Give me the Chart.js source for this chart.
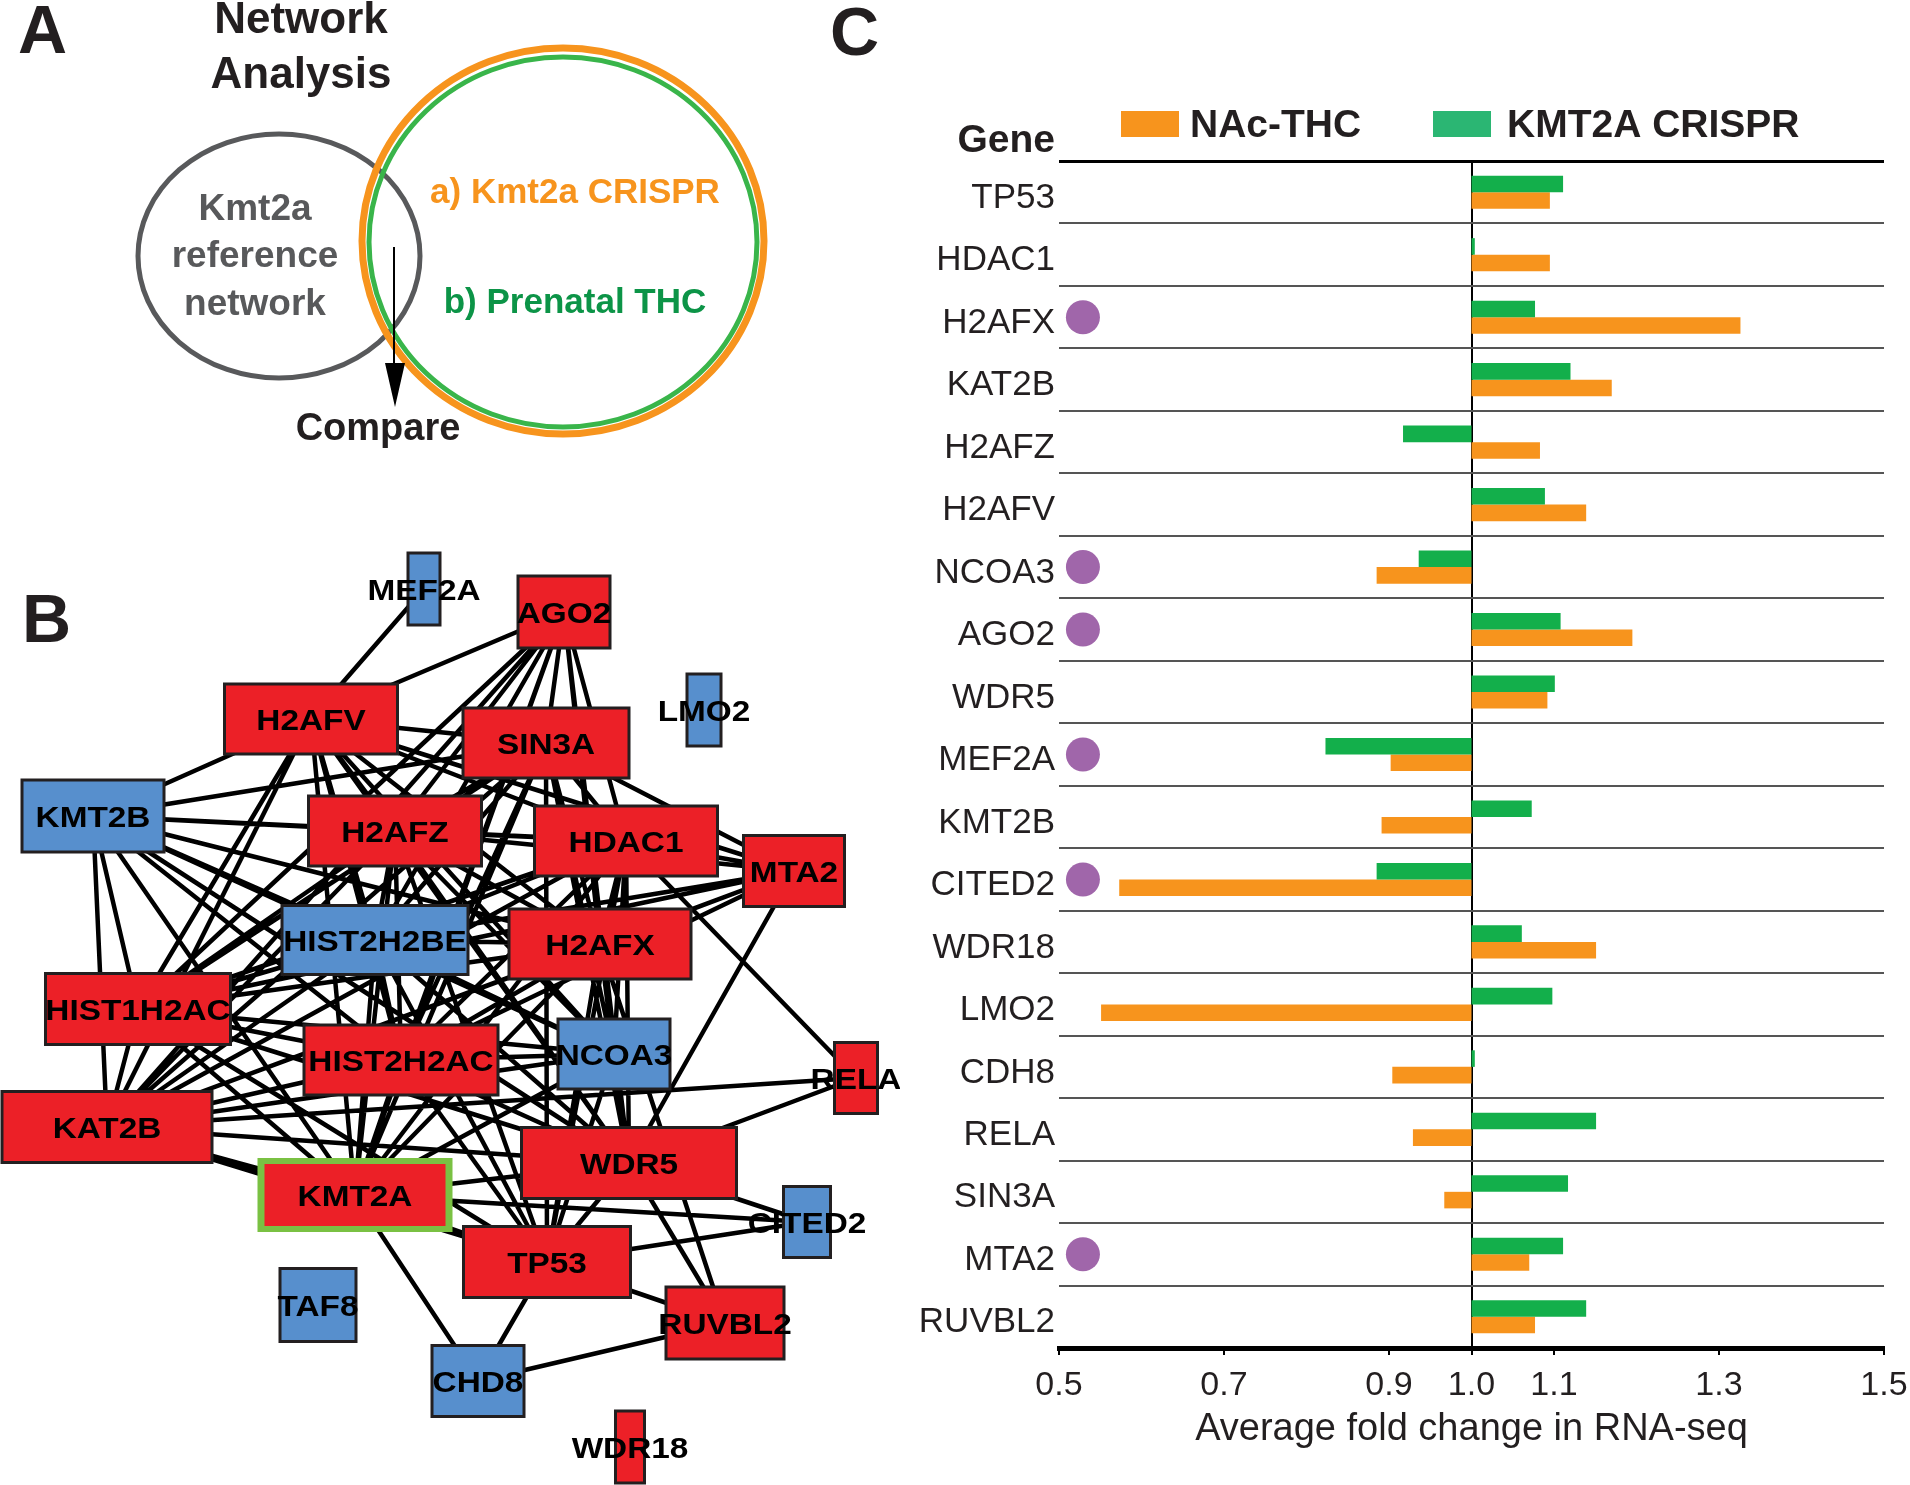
<!DOCTYPE html>
<html>
<head>
<meta charset="utf-8">
<script src="https://cdn.jsdelivr.net/npm/chart.js@4.4.1/dist/chart.umd.min.js"></script>
<style>
  html, body { margin: 0; padding: 0; background: #fff; }
  body { width: 1910px; height: 1485px; position: relative; overflow: hidden; }
  #net { position: absolute; left: 0; top: 0; }
  #bars { position: absolute; left: 900px; top: 0; }
</style>
</head>
<body>
<canvas id="net" width="900" height="1485"></canvas>
<canvas id="bars" width="1010" height="1485"></canvas>
<script>
// ---- panel C data ----
var genes = ['TP53', 'HDAC1', 'H2AFX', 'KAT2B', 'H2AFZ', 'H2AFV', 'NCOA3', 'AGO2', 'WDR5', 'MEF2A',
             'KMT2B', 'CITED2', 'WDR18', 'LMO2', 'CDH8', 'RELA', 'SIN3A', 'MTA2', 'RUVBL2'];
var nacThc      = [1.095, 1.095, 1.326, 1.170, 1.083, 1.139, 0.885, 1.195, 1.092, 0.902,
                   0.891, 0.573, 1.151, 0.551, 0.904, 0.929, 0.967, 1.070, 1.077];
var kmt2aCrispr = [1.111, 1.004, 1.077, 1.120, 0.917, 1.089, 0.936, 1.108, 1.101, 0.823,
                   1.073, 0.885, 1.061, 1.098, 1.004, 1.151, 1.117, 1.111, 1.139];
var markedGenes = ['H2AFX', 'NCOA3', 'AGO2', 'MEF2A', 'CITED2', 'MTA2'];
var xTicks = [0.5, 0.7, 0.9, 1.0, 1.1, 1.3, 1.5];

// ---- panel B network ----
var nodeNames = ['MEF2A', 'AGO2', 'LMO2', 'H2AFV', 'SIN3A', 'KMT2B', 'H2AFZ', 'HDAC1', 'MTA2', 'HIST2H2BE',
                 'H2AFX', 'HIST1H2AC', 'HIST2H2AC', 'NCOA3', 'RELA', 'KAT2B', 'WDR5', 'KMT2A', 'CITED2', 'TP53',
                 'TAF8', 'RUVBL2', 'CHD8', 'WDR18'];
var nodeX = [424, 564, 704, 311, 546, 93, 395, 626, 794, 375, 600, 138, 401, 614, 856, 107, 629, 355, 807, 547, 318, 725, 478, 630];
var nodeY = [589, 612, 710, 719, 743, 816, 831, 841, 871, 940, 944, 1009, 1060, 1054, 1078, 1127, 1163, 1195, 1222, 1262, 1305, 1323, 1381, 1447];
var redNodes = ['AGO2', 'H2AFV', 'SIN3A', 'H2AFZ', 'HDAC1', 'MTA2', 'H2AFX', 'HIST1H2AC', 'HIST2H2AC', 'RELA',
                'KAT2B', 'WDR5', 'KMT2A', 'TP53', 'RUVBL2', 'WDR18'];
var queryNode = 'KMT2A';
var edges = [
  ['MEF2A','H2AFV'], ['AGO2','H2AFV'], ['AGO2','SIN3A'], ['AGO2','HDAC1'], ['AGO2','H2AFZ'], ['AGO2','HIST2H2BE'],
  ['AGO2','H2AFX'], ['AGO2','HIST2H2AC'], ['AGO2','NCOA3'], ['AGO2','HIST1H2AC'], ['AGO2','KAT2B'], ['AGO2','WDR5'],
  ['AGO2','KMT2A'], ['H2AFV','SIN3A'], ['H2AFV','KMT2B'], ['H2AFV','H2AFZ'], ['H2AFV','HDAC1'], ['H2AFV','HIST2H2BE'],
  ['H2AFV','H2AFX'], ['H2AFV','HIST1H2AC'], ['H2AFV','HIST2H2AC'], ['H2AFV','KAT2B'], ['H2AFV','KMT2A'], ['H2AFV','WDR5'],
  ['H2AFV','NCOA3'], ['H2AFV','MTA2'], ['SIN3A','KMT2B'], ['SIN3A','H2AFZ'], ['SIN3A','HDAC1'], ['SIN3A','MTA2'],
  ['SIN3A','H2AFX'], ['SIN3A','HIST2H2BE'], ['SIN3A','HIST1H2AC'], ['SIN3A','HIST2H2AC'], ['SIN3A','KAT2B'], ['SIN3A','NCOA3'],
  ['SIN3A','WDR5'], ['SIN3A','KMT2A'], ['SIN3A','TP53'], ['KMT2B','H2AFZ'], ['KMT2B','HDAC1'], ['KMT2B','HIST2H2BE'],
  ['KMT2B','H2AFX'], ['KMT2B','HIST1H2AC'], ['KMT2B','KAT2B'], ['KMT2B','HIST2H2AC'], ['KMT2B','KMT2A'], ['KMT2B','WDR5'],
  ['KMT2B','NCOA3'], ['H2AFZ','HDAC1'], ['H2AFZ','MTA2'], ['H2AFZ','HIST2H2BE'], ['H2AFZ','H2AFX'], ['H2AFZ','HIST1H2AC'],
  ['H2AFZ','HIST2H2AC'], ['H2AFZ','KAT2B'], ['H2AFZ','NCOA3'], ['H2AFZ','WDR5'], ['H2AFZ','KMT2A'], ['H2AFZ','TP53'],
  ['HDAC1','MTA2'], ['HDAC1','HIST2H2BE'], ['HDAC1','H2AFX'], ['HDAC1','HIST1H2AC'], ['HDAC1','HIST2H2AC'], ['HDAC1','KAT2B'],
  ['HDAC1','NCOA3'], ['HDAC1','WDR5'], ['HDAC1','KMT2A'], ['HDAC1','TP53'], ['HDAC1','RELA'], ['MTA2','HIST2H2BE'],
  ['MTA2','H2AFX'], ['MTA2','HIST2H2AC'], ['MTA2','WDR5'], ['MTA2','HIST1H2AC'], ['MTA2','KAT2B'], ['HIST2H2BE','H2AFX'],
  ['HIST2H2BE','HIST1H2AC'], ['HIST2H2BE','HIST2H2AC'], ['HIST2H2BE','KAT2B'], ['HIST2H2BE','NCOA3'], ['HIST2H2BE','WDR5'],
  ['HIST2H2BE','KMT2A'], ['HIST2H2BE','TP53'], ['H2AFX','HIST1H2AC'], ['H2AFX','HIST2H2AC'], ['H2AFX','NCOA3'],
  ['H2AFX','KAT2B'], ['H2AFX','WDR5'], ['H2AFX','KMT2A'], ['H2AFX','TP53'], ['H2AFX','RUVBL2'], ['HIST1H2AC','HIST2H2AC'],
  ['HIST1H2AC','KAT2B'], ['HIST1H2AC','NCOA3'], ['HIST1H2AC','WDR5'], ['HIST1H2AC','KMT2A'], ['HIST1H2AC','TP53'],
  ['HIST2H2AC','NCOA3'], ['HIST2H2AC','KAT2B'], ['HIST2H2AC','WDR5'], ['HIST2H2AC','KMT2A'], ['HIST2H2AC','TP53'],
  ['NCOA3','KAT2B'], ['NCOA3','WDR5'], ['NCOA3','KMT2A'], ['NCOA3','TP53'], ['KAT2B','WDR5'], ['KAT2B','KMT2A'],
  ['KAT2B','TP53'], ['KAT2B','RELA'], ['WDR5','KMT2A'], ['WDR5','TP53'], ['WDR5','RELA'], ['WDR5','CITED2'],
  ['WDR5','RUVBL2'], ['KMT2A','TP53'], ['KMT2A','CHD8'], ['KMT2A','CITED2'], ['TP53','CITED2'], ['TP53','RUVBL2'],
  ['TP53','CHD8'], ['CHD8','RUVBL2']
];

// node box sizes in px (style, not data)
var nodeBox = {
  MEF2A: [32, 72], AGO2: [92, 72], LMO2: [34, 72], H2AFV: [173, 70], SIN3A: [166, 70], KMT2B: [142, 72],
  H2AFZ: [173, 70], HDAC1: [183, 70], MTA2: [101, 71], HIST2H2BE: [186, 69], H2AFX: [182, 70], HIST1H2AC: [185, 71],
  HIST2H2AC: [194, 70], NCOA3: [112, 70], RELA: [43, 71], KAT2B: [210, 71], WDR5: [215, 71], KMT2A: [195, 74],
  CITED2: [47, 71], TP53: [167, 71], TAF8: [76, 73], RUVBL2: [118, 72], CHD8: [92, 71], WDR18: [29, 72]
};

var ORANGE = '#f7941d', GREEN = '#13af4b', LEGEND_GREEN = '#2bb673', PURPLE = '#a066aa', INK = '#231f20';
var RED = '#ec2027', BLUE = '#578fcd';
var FONT = "'Liberation Sans', Arial, sans-serif";

Chart.defaults.font.family = FONT;
Chart.defaults.color = INK;

function nodeIndex(name) { return nodeNames.indexOf(name); }

var edgePoints = [];
edges.forEach(function (e) {
  var a = nodeIndex(e[0]), b = nodeIndex(e[1]);
  edgePoints.push({x: nodeX[a], y: nodeY[a]}, {x: nodeX[b], y: nodeY[b]}, {x: null, y: null});
});

function wideText(ctx, text, x, y, sx) {
  ctx.save();
  ctx.translate(x, y);
  ctx.scale(sx, 1);
  ctx.fillText(text, 0, 0);
  ctx.restore();
}

// panel A (venn sketch) + panel letters
var venn = {
  id: 'venn',
  beforeDatasetsDraw: function (chart) {
    var ctx = chart.ctx, sx = chart.scales.x, sy = chart.scales.y;
    var X = function (v) { return sx.getPixelForValue(v); };
    var Y = function (v) { return sy.getPixelForValue(v); };
    function ring(cx, cy, rx, ry, color, w) {
      ctx.beginPath();
      ctx.ellipse(X(cx), Y(cy), X(cx + rx) - X(cx), Y(cy + ry) - Y(cy), 0, 0, Math.PI * 2);
      ctx.strokeStyle = color; ctx.lineWidth = w; ctx.stroke();
    }
    ctx.save();
    ring(279, 256, 141, 122, '#58595b', 5);
    ring(563, 241, 201, 193, ORANGE, 7);
    ring(563, 242, 194, 185, '#39b54a', 5);

    // compare arrow
    ctx.strokeStyle = '#000'; ctx.lineWidth = 2;
    ctx.beginPath(); ctx.moveTo(X(394), Y(247)); ctx.lineTo(X(394), Y(368)); ctx.stroke();
    ctx.fillStyle = '#000';
    ctx.beginPath(); ctx.moveTo(X(385), Y(363)); ctx.lineTo(X(405), Y(363)); ctx.lineTo(X(395), Y(407)); ctx.closePath(); ctx.fill();

    ctx.textBaseline = 'alphabetic';
    ctx.fillStyle = INK;
    ctx.textAlign = 'left';
    ctx.font = 'bold 68px ' + FONT;
    ctx.fillText('A', X(18), Y(53));
    ctx.fillText('B', X(22), Y(642));
    ctx.fillText('C', X(830), Y(55));

    ctx.textAlign = 'center';
    ctx.font = 'bold 44px ' + FONT;
    ctx.fillText('Network', X(301), Y(33));
    ctx.fillText('Analysis', X(301), Y(88));

    ctx.fillStyle = '#58595b';
    ctx.font = 'bold 37px ' + FONT;
    ctx.fillText('Kmt2a', X(255), Y(220));
    ctx.fillText('reference', X(255), Y(267));
    ctx.fillText('network', X(255), Y(315));

    ctx.font = 'bold 35px ' + FONT;
    ctx.fillStyle = ORANGE;
    ctx.fillText('a) Kmt2a CRISPR', X(575), Y(203));
    ctx.fillStyle = '#0c9447';
    ctx.fillText('b) Prenatal THC', X(575), Y(313));

    ctx.fillStyle = INK;
    ctx.font = 'bold 38px ' + FONT;
    ctx.fillText('Compare', X(378), Y(440));
    ctx.restore();
  },
  afterDatasetsDraw: function (chart) {
    var ctx = chart.ctx, sx = chart.scales.x, sy = chart.scales.y;
    ctx.save();
    nodeNames.forEach(function (name, i) {
      var cx = sx.getPixelForValue(nodeX[i]), cy = sy.getPixelForValue(nodeY[i]);
      var w = nodeBox[name][0], h = nodeBox[name][1];
      var red = redNodes.indexOf(name) >= 0;
      if (name === queryNode) {
        ctx.fillStyle = '#7ac143';
        ctx.fillRect(cx - w / 2, cy - h / 2, w, h);
        ctx.fillStyle = RED;
        ctx.fillRect(cx - w / 2 + 7, cy - h / 2 + 6, w - 14, h - 12);
      } else {
        ctx.fillStyle = red ? RED : BLUE;
        ctx.fillRect(cx - w / 2, cy - h / 2, w, h);
        ctx.strokeStyle = INK; ctx.lineWidth = 3;
        ctx.strokeRect(cx - w / 2, cy - h / 2, w, h);
      }
      ctx.fillStyle = '#000';
      ctx.font = 'bold 29px ' + FONT;
      ctx.textAlign = 'center';
      ctx.textBaseline = 'alphabetic';
      wideText(ctx, name, cx, cy + 10.5, 1.15);
    });
    ctx.restore();
  }
};

new Chart(document.getElementById('net'), {
  type: 'scatter',
  data: {
    datasets: [{
      label: 'edges',
      data: edgePoints,
      showLine: true,
      spanGaps: false,
      borderColor: '#000',
      borderWidth: 4.5,
      pointRadius: 0,
      pointHoverRadius: 0
    }]
  },
  options: {
    responsive: false,
    animation: false,
    devicePixelRatio: 1,
    layout: { padding: 0 },
    plugins: { legend: { display: false }, tooltip: { enabled: false } },
    scales: {
      x: { type: 'linear', min: 0, max: 900, display: false },
      y: { type: 'linear', min: 0, max: 1485, reverse: true, display: false }
    }
  },
  plugins: [venn]
});

// header text + legend for panel C
var barHeader = {
  id: 'barHeader',
  afterDraw: function (chart) {
    var ctx = chart.ctx;
    ctx.save();
    ctx.fillStyle = INK;
    ctx.textBaseline = 'alphabetic';
    ctx.textAlign = 'right';
    ctx.font = 'bold 39px ' + FONT;
    ctx.fillText('Gene', chart.chartArea.left - 4, 152);
    var items = [
      { label: chart.data.datasets[1].label, color: ORANGE, box: 221, text: 290 },
      { label: chart.data.datasets[0].label, color: LEGEND_GREEN, box: 533, text: 607 }
    ];
    ctx.textAlign = 'left';
    ctx.font = 'bold 39px ' + FONT;
    items.forEach(function (it) {
      ctx.fillStyle = it.color;
      ctx.fillRect(it.box, 111, 58, 26);
      ctx.fillStyle = INK;
      ctx.fillText(it.label, it.text, 137);
    });
    ctx.restore();
  }
};

new Chart(document.getElementById('bars'), {
  type: 'bar',
  data: {
    labels: genes,
    datasets: [
      {
        label: 'KMT2A CRISPR',
        data: kmt2aCrispr.map(function (v) { return [1, v]; }),
        backgroundColor: GREEN,
        borderWidth: 0,
        categoryPercentage: 0.53,
        barPercentage: 1
      },
      {
        label: 'NAc-THC',
        data: nacThc.map(function (v) { return [1, v]; }),
        backgroundColor: ORANGE,
        borderWidth: 0,
        categoryPercentage: 0.53,
        barPercentage: 1
      },
      {
        type: 'scatter',
        label: 'marked',
        data: markedGenes.map(function (g) { return { x: 0.529, y: g }; }),
        backgroundColor: PURPLE,
        borderWidth: 0,
        pointRadius: 17,
        pointHoverRadius: 17
      }
    ]
  },
  options: {
    indexAxis: 'y',
    responsive: false,
    animation: false,
    devicePixelRatio: 1,
    layout: { padding: { top: 161, right: 26, left: 0, bottom: 0 } },
    plugins: { legend: { display: false }, tooltip: { enabled: false } },
    scales: {
      x: {
        type: 'linear',
        min: 0.5,
        max: 1.5,
        afterBuildTicks: function (s) { s.ticks = xTicks.map(function (v) { return { value: v }; }); },
        afterFit: function (s) { s.height = 137; s.paddingLeft = 0; s.paddingRight = 0; },
        ticks: {
          font: { size: 34 },
          color: INK,
          padding: 10,
          maxRotation: 0,
          autoSkip: false,
          callback: function (v) { return Number(v).toFixed(1); }
        },
        grid: {
          color: function (c) { return (c.tick && c.tick.value === 1) ? '#000' : 'rgba(0,0,0,0)'; },
          lineWidth: 2,
          drawTicks: true,
          tickLength: 7,
          tickColor: '#000',
          tickWidth: 2
        },
        border: { display: true, color: '#000', width: 5 },
        title: {
          display: true,
          text: 'Average fold change in RNA-seq',
          font: { size: 38 },
          color: INK,
          padding: { top: 0, bottom: 33 }
        }
      },
      y: {
        type: 'category',
        offset: true,
        afterFit: function (s) { s.width = 159; s.paddingTop = 0; s.paddingBottom = 0; },
        ticks: { font: { size: 35 }, color: INK, padding: 4, autoSkip: false, labelOffset: 6 },
        grid: {
          offset: true,
          drawTicks: false,
          color: function (c) { return c.index === 0 ? '#000' : '#555'; },
          lineWidth: function (c) { return c.index === 0 ? 3 : 2; }
        },
        border: { display: false }
      }
    }
  },
  plugins: [barHeader]
});
</script>
</body>
</html>
